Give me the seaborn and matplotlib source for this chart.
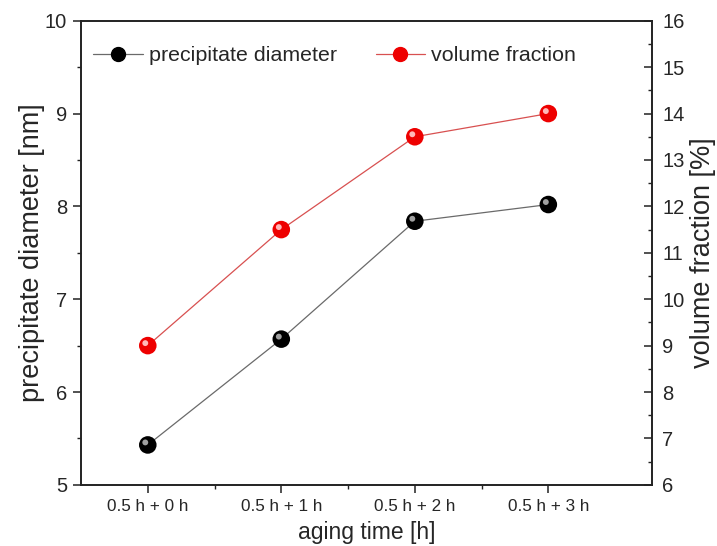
import seaborn as sns
import matplotlib
matplotlib.use("Agg")
import matplotlib.pyplot as plt
from matplotlib import transforms
from matplotlib.lines import Line2D
from matplotlib.ticker import MultipleLocator
import numpy as np

# data
aging = ["0.5 h + 0 h", "0.5 h + 1 h", "0.5 h + 2 h", "0.5 h + 3 h"]
diameter = [5.43, 6.57, 7.84, 8.02]
vol_fraction = [9.0, 11.5, 13.5, 14.0]

BLACK = "#000000"
LINE_GREY = "#6a6a6a"
RED = "#ee0000"
LINE_RED = "#d85050"
AXC = "#222222"

sns.set_style("ticks")
plt.rcParams["font.family"] = ["Liberation Sans", "DejaVu Sans"]

fig = plt.figure(figsize=(7.17, 5.46), dpi=100)
ax = fig.add_axes([0.113, 0.112, 0.797, 0.850])
ax2 = ax.twinx()

xpos = np.arange(len(aging))

# lines
sns.lineplot(x=xpos, y=diameter, ax=ax, color=LINE_GREY, lw=0.9, zorder=2)
sns.lineplot(x=xpos, y=vol_fraction, ax=ax2, color=LINE_RED, lw=0.9, zorder=2)

# spheres: body + small highlight shifted up-left
hl = transforms.offset_copy(ax.transData, fig=fig, x=-2.5, y=2.5, units="dots")
hl2 = transforms.offset_copy(ax2.transData, fig=fig, x=-2.5, y=2.5, units="dots")
sns.scatterplot(x=xpos, y=diameter, ax=ax, color=BLACK, s=160, edgecolor="none", zorder=3)
sns.scatterplot(x=xpos, y=diameter, ax=ax, color="#a0a0a0", s=18, edgecolor="none",
                zorder=4, transform=hl)
sns.scatterplot(x=xpos, y=vol_fraction, ax=ax2, color=RED, s=160, edgecolor="none", zorder=3)
sns.scatterplot(x=xpos, y=vol_fraction, ax=ax2, color="#ffb8b8", s=18, edgecolor="none",
                zorder=4, transform=hl2)

# limits and ticks
ax.set_xlim(-0.5, 3.78)
ax.set_ylim(5, 10)
ax2.set_ylim(6, 16)
ax.set_xticks(xpos)
ax.set_xticklabels(aging, fontsize=12.3)
ax.set_xticks(xpos[:-1] + 0.5, minor=True)
ax.yaxis.set_major_locator(MultipleLocator(1))
ax.yaxis.set_minor_locator(MultipleLocator(0.5))
ax2.yaxis.set_major_locator(MultipleLocator(1))
ax2.yaxis.set_minor_locator(MultipleLocator(0.5))

for a in (ax, ax2):
    for sp in a.spines.values():
        sp.set_visible(True)
        sp.set_linewidth(1.2)
        sp.set_color(AXC)
ax.tick_params(which="major", direction="out", length=6, width=1.1, color=AXC)
ax.tick_params(which="minor", direction="out", length=3, width=1.0, color=AXC)
ax.tick_params(axis="x", which="both", top=False, pad=4)
ax.tick_params(axis="y", labelsize=14.5, pad=4)
ax2.tick_params(which="major", direction="in", length=6, width=1.1, color=AXC)
ax2.tick_params(which="minor", direction="in", length=3, width=1.0, color=AXC)
ax2.tick_params(axis="y", labelsize=14.5, pad=7)

ax.set_xlabel("aging time [h]", fontsize=16.5, labelpad=5)
ax.set_ylabel("precipitate diameter [nm]", fontsize=19.5, labelpad=0)
ax2.set_ylabel("volume fraction [%]", fontsize=19.5, labelpad=4)

# legend
handles = [
    Line2D([], [], color=LINE_GREY, lw=0.9, marker="o", markersize=10,
           markerfacecolor=BLACK, markeredgecolor=BLACK),
    Line2D([], [], color=LINE_RED, lw=0.9, marker="o", markersize=10,
           markerfacecolor=RED, markeredgecolor=RED),
]
ax2.legend(handles, ["precipitate diameter", "volume fraction"], ncol=2, frameon=False,
           loc="center left", bbox_to_anchor=(-0.012, 0.925), fontsize=15.4,
           handlelength=2.3, handletextpad=0.3, columnspacing=1.8)

fig.savefig("out.png", dpi=100)
